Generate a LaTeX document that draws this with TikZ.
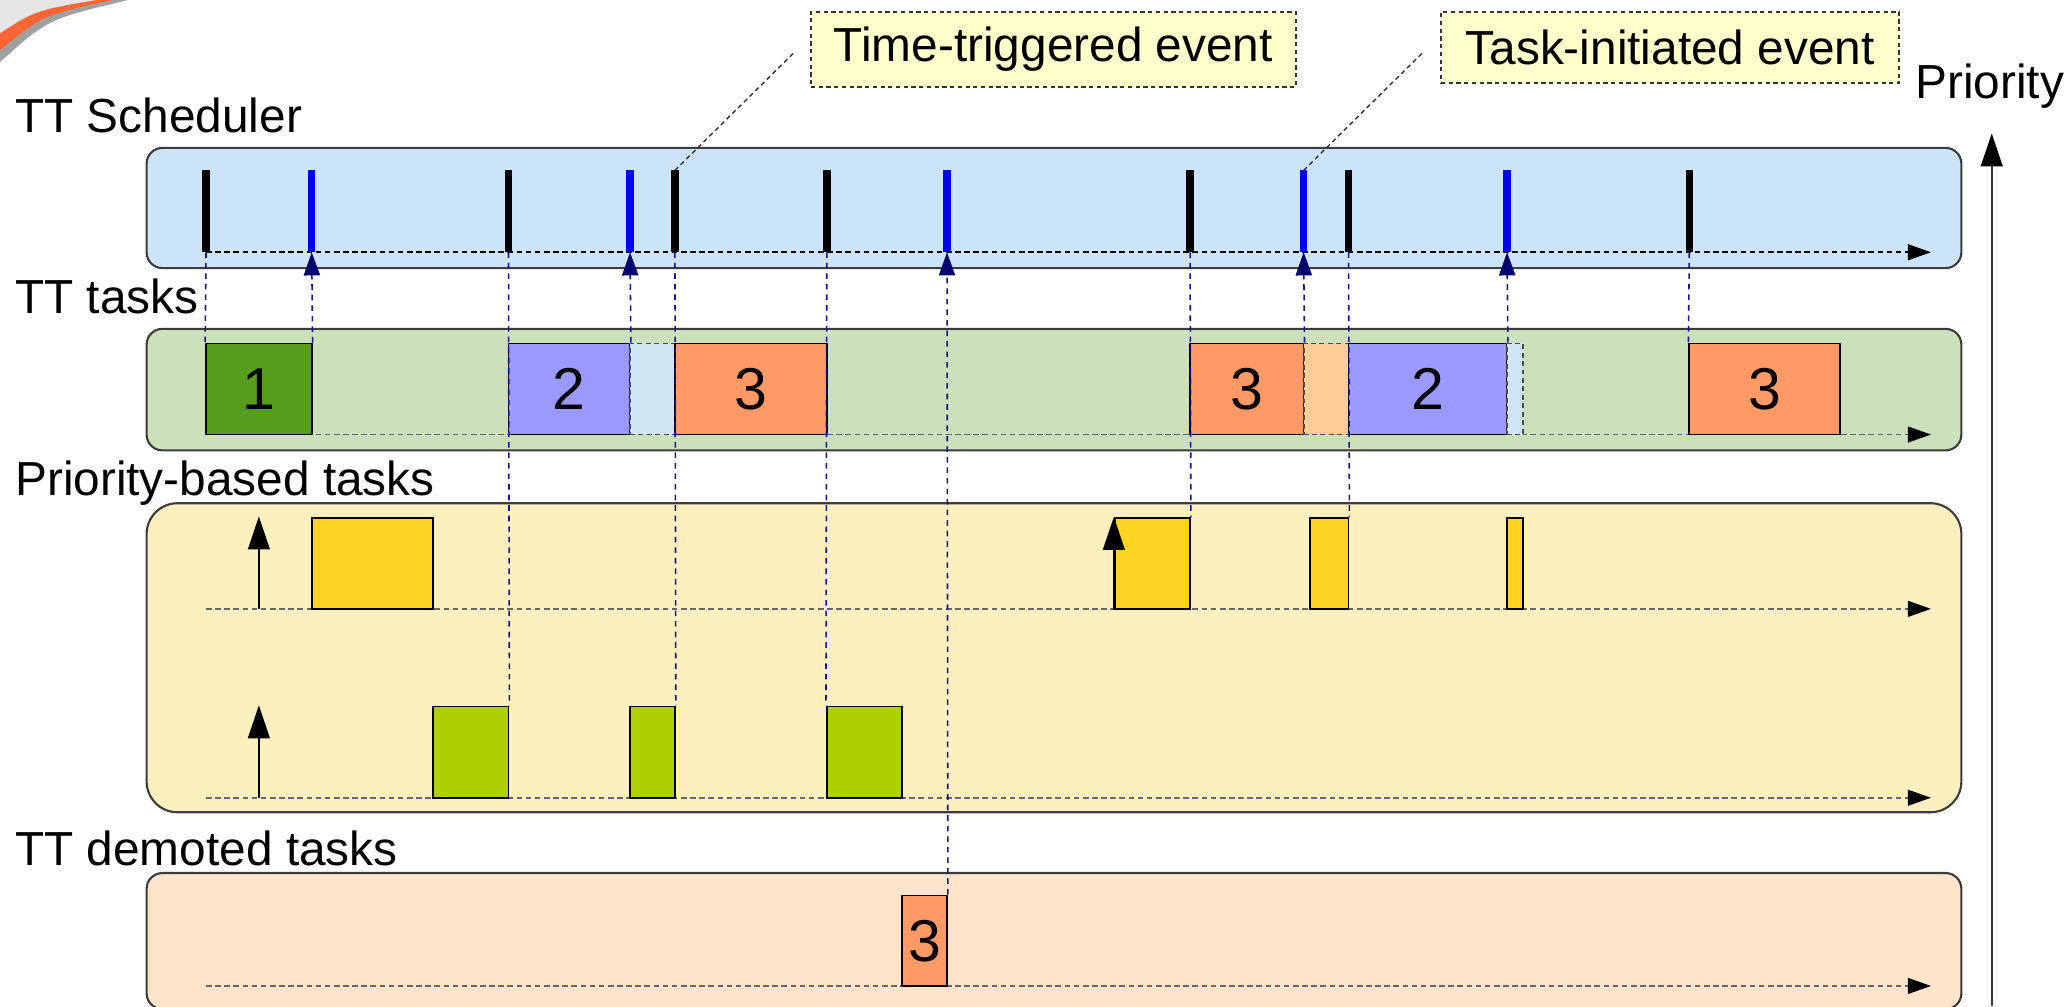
\documentclass[tikz,border=0pt]{standalone}
\usepackage{fontspec}
\setmainfont{Liberation Sans}
\usetikzlibrary{arrows.meta,fit}

\definecolor{schedbg}{RGB}{204,228,250}
\definecolor{ttbg}{RGB}{205,224,188}
\definecolor{pbbg}{RGB}{253,240,190}
\definecolor{dembg}{RGB}{255,228,204}
\definecolor{taskone}{RGB}{87,157,28}
\definecolor{tasktwo}{RGB}{153,153,255}
\definecolor{taskthree}{RGB}{255,153,102}
\definecolor{threewait}{RGB}{255,204,153}
\definecolor{twowait}{RGB}{207,231,245}
\definecolor{pbhigh}{RGB}{255,211,32}
\definecolor{pblow}{RGB}{174,207,0}
\definecolor{notebg}{RGB}{255,255,204}
\definecolor{swooshorange}{RGB}{255,102,51}
\definecolor{swooshgray}{RGB}{160,160,160}
\definecolor{swooshlight}{RGB}{230,230,230}
\definecolor{panelline}{RGB}{60,60,60}
\definecolor{linkblue}{RGB}{20,20,150}
\definecolor{tipnavy}{RGB}{0,0,110}
\definecolor{tickblue}{RGB}{0,0,255}

\newcommand\lanefont{\fontsize{13.6}{16}\selectfont}
\newcommand\tasknum{\fontsize{16.8}{19}\selectfont}

\tikzset{
  panel/.style={draw=panelline, line width=0.6pt},
  timeline/.style={draw=#1, line width=0.55pt, dash pattern=on 1.6pt off 1pt,
    -{Triangle[length=6.6pt,width=4.5pt,color=black]}},
  taskbox/.style={draw=black, line width=0.5pt, inner sep=0pt},
  waitbox/.style={draw=black!70, line width=0.5pt, dash pattern=on 1.4pt off 1pt, inner sep=0pt},
  num/.style={label={[font=\tasknum, inner sep=0pt]center:#1}},
  tickmark/.style={line width=2.1pt},
  link/.style={draw=linkblue, line width=0.45pt, dash pattern=on 1.6pt off 1.4pt},
  linkup/.style={link, -{Triangle[length=6.6pt,width=4.6pt,color=tipnavy]}},
  release/.style={draw=black, line width=0.5pt, -{Triangle[length=9.4pt,width=6.2pt,color=black]}},
  note/.style={draw=black!80, fill=notebg, line width=0.5pt, dash pattern=on 1.2pt off 1pt,
    inner sep=0pt},
  notetext/.style={label={[font=\lanefont, inner sep=0pt]center:#1}},
  notelink/.style={draw=black!80, line width=0.4pt, dash pattern=on 1.3pt off 1pt},
  lane/.style={anchor=base west, inner sep=0pt, font=\lanefont}
}

\begin{document}
\begin{tikzpicture}[x=0.013208cm, y=-0.013208cm]
\useasboundingbox (0,0) rectangle (1568,762);

% slide corner ornament
\fill[swooshgray] (0,0) -- (0,47) .. controls (36,14.6) .. (97,0) -- cycle;
\fill[swooshorange] (0,0) -- (0,38) .. controls (31.7,11.8) .. (85,0) -- cycle;
\fill[swooshlight] (0,0) -- (0,25) .. controls (27,7.8) .. (73,0) -- cycle;

% lane panels
\draw[panel, fill=schedbg, rounded corners=4.5pt] (111,112) rectangle (1485,203);
\draw[panel, fill=ttbg, rounded corners=4.5pt] (111,249) rectangle (1485,341);
\draw[panel, fill=pbbg, rounded corners=8.8pt] (111,381) rectangle (1485,615);
\draw[panel, fill=dembg, rounded corners=4.5pt] (111,661) rectangle (1485,764);

% lane titles
\node[lane] (lsched) at (11,100.7) {TT Scheduler};
\node[lane] (ltt) at (11,237) {TT tasks};
\node[lane] (lpb) at (11,374.8) {Priority-based tasks};
\node[lane] (ldem) at (11,655) {TT demoted tasks};

% priority axis
\coordinate (pbot) at (1508,762);
\coordinate (ptop) at (1508,101);
\draw[release, draw=panelline] (pbot) -- (ptop);
\node[lane] (lprio) at (1449.6,74.5) {Priority};

% time axes
\coordinate (a0) at (156,191);   \coordinate (a1) at (1462,191);
\coordinate (b0) at (156,329);   \coordinate (b1) at (1462,329);
\coordinate (c0) at (156,461);   \coordinate (c1) at (1462,461);
\coordinate (d0) at (156,604);   \coordinate (d1) at (1462,604);
\coordinate (e0) at (156,746.5); \coordinate (e1) at (1462,746.5);
\draw[timeline=black] (a0) -- (a1);
\draw[timeline=black!60] (b0) -- (b1);
\draw[timeline=black!60] (c0) -- (c1);
\draw[timeline=black!60] (d0) -- (d1);
\draw[timeline=black!60] (e0) -- (e1);

% TT tasks
\node[taskbox, fill=taskone, num=1, fit={(156,260) (236,329)}] (t1) {};
\node[taskbox, fill=tasktwo, num=2, fit={(385,260) (477,329)}] (t2) {};
\node[waitbox, fill=twowait, fit={(477,260) (511,329)}] (w2) {};
\node[taskbox, fill=taskthree, num=3, fit={(511,260) (626,329)}] (t3) {};
\node[taskbox, fill=taskthree, num=3, fit={(901,260) (987,329)}] (t4) {};
\node[waitbox, fill=threewait, fit={(987,260) (1021,329)}] (w4) {};
\node[taskbox, fill=tasktwo, num=2, fit={(1021,260) (1141,329)}] (t5) {};
\node[waitbox, fill=twowait, fit={(1141,260) (1153,329)}] (w5) {};
\node[taskbox, fill=taskthree, num=3, fit={(1279,260) (1393,329)}] (t6) {};

% priority-based tasks, high row
\node[taskbox, fill=pbhigh, fit={(236,392) (328,461)}] (h1) {};
\node[taskbox, fill=pbhigh, fit={(844,392) (901,461)}] (h2) {};
\node[taskbox, fill=pbhigh, fit={(992,392) (1021,461)}] (h3) {};
\node[taskbox, fill=pbhigh, fit={(1141,392) (1153,461)}] (h4) {};
\coordinate (rh0) at (196,461); \coordinate (rh1) at (196,391);
\draw[release] (rh0) -- (rh1);
\draw[release] (h2.south west) -- (h2.north west);

% priority-based tasks, low row
\node[taskbox, fill=pblow, fit={(328,535) (385,604)}] (g1) {};
\node[taskbox, fill=pblow, fit={(477,535) (511,604)}] (g2) {};
\node[taskbox, fill=pblow, fit={(626,535) (683,604)}] (g3) {};
\coordinate (rl0) at (196,604); \coordinate (rl1) at (196,534);
\draw[release] (rl0) -- (rl1);

% demoted task
\node[taskbox, fill=taskthree, num=3, fit={(683,678) (717,746.5)}] (dm) {};

% scheduler ticks: black = time-triggered, blue = task-initiated
\foreach \n/\x/\c in {1/156/black, 2/236/tickblue, 3/385/black, 4/477/tickblue,
                      5/511/black, 6/626/black, 7/717/tickblue, 8/901/black,
                      9/987/tickblue, 10/1021/black, 11/1141/tickblue, 12/1279/black}{
  \coordinate (s\n t) at (\x,129);
  \coordinate (s\n) at (\x,191);
  \draw[tickmark, draw=\c] (s\n t) -- (s\n);
}

% dispatch links (scheduler -> task) and completion links (task -> scheduler)
\draw[link] (s1) -- (t1.north west);
\draw[linkup] (t1.north east) -- (s2);
\draw[link] (s3) -- (g1.north east);
\draw[linkup] (t2.north east) -- (s4);
\draw[link] (s5) -- (g2.north east);
\draw[link] (s6) -- (g3.north west);
\draw[linkup] (dm.north east) -- (s7);
\draw[link] (s8) -- (h2.north east);
\draw[linkup] (t4.north east) -- (s9);
\draw[link] (s10) -- (h3.north east);
\draw[linkup] (t5.north east) -- (s11);
\draw[link] (s12) -- (t6.north west);

% event notes
\node[note, notetext={Time-triggered event}, fit={(614,9) (981,66)}] (ntt) {};
\node[note, notetext={Task-initiated event}, fit={(1091,9) (1438,63)}] (nti) {};
\coordinate (ntt end) at (601,40);
\coordinate (nti end) at (1077,40);
\draw[notelink] (s5t) -- (ntt end);
\draw[notelink] (s9t) -- (nti end);
\end{tikzpicture}
\end{document}
